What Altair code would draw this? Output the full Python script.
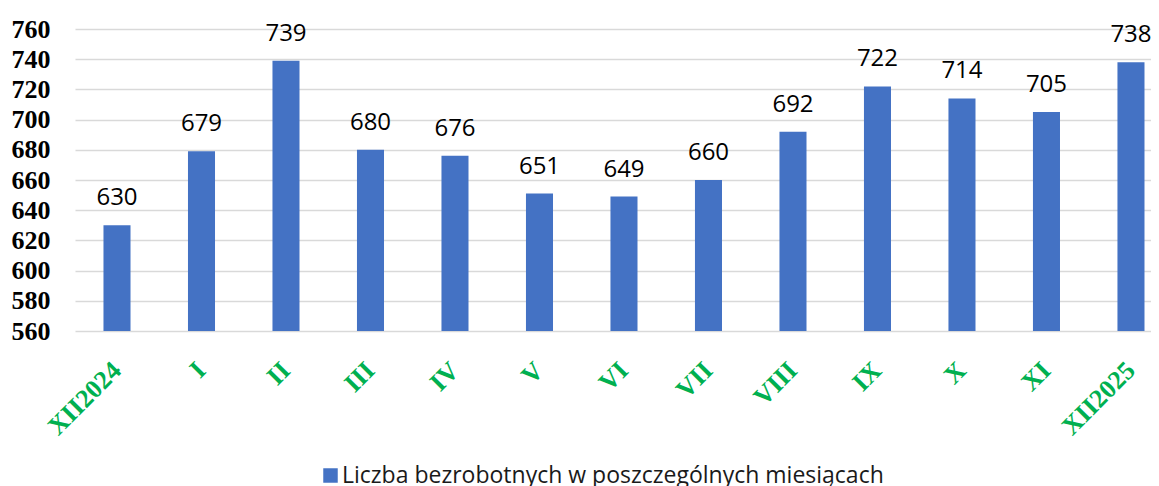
import altair as alt
import pandas as pd

miesiace = ["XII2024", "I", "II", "III", "IV", "V", "VI", "VII", "VIII", "IX", "X", "XI", "XII2025"]
wartosci = [630, 679, 739, 680, 676, 651, 649, 660, 692, 722, 714, 705, 738]
seria = "Liczba bezrobotnych w poszczególnych miesiącach"
y_ticks = [560, 580, 600, 620, 640, 660, 680, 700, 720, 740, 760]

df = pd.DataFrame({
    "miesiac": miesiace,
    "wartosc": wartosci,
    "seria": [seria] * len(miesiace),
})

x_scale = alt.Scale(paddingInner=0.68, paddingOuter=0.207, align=0.814)
y_scale = alt.Scale(domain=[560, 760], nice=False, zero=False)

x_enc = alt.X(
    "miesiac:N",
    sort=miesiace,
    title=None,
    scale=x_scale,
    axis=alt.Axis(
        labelAngle=315,
        labelAlign="right",
        labelBaseline="middle",
        labelFont="Liberation Serif",
        labelFontWeight="bold",
        labelFontSize=26,
        labelColor="#00B050",
        labelPadding=35,
        labelOverlap=False,
        ticks=False,
        domain=False,
        grid=False,
    ),
)

y_enc = alt.Y(
    "wartosc:Q",
    title=None,
    scale=y_scale,
    axis=alt.Axis(
        values=y_ticks,
        labelFont="Liberation Serif",
        labelFontWeight="bold",
        labelFontSize=26,
        labelColor="#000000",
        labelPadding=25,
        labelOverlap=False,
        labelBound=False,
        labelFlush=False,
        ticks=False,
        domain=False,
        grid=True,
        gridColor="#D9D9D9",
        gridWidth=1.5,
    ),
)

bars = alt.Chart(df).mark_bar().encode(
    x=x_enc,
    y=y_enc,
    y2=alt.datum(560),
    color=alt.Color(
        "seria:N",
        scale=alt.Scale(range=["#4472C4"]),
        legend=alt.Legend(
            title=None,
            orient="none",
            legendX=244,
            legendY=435,
            symbolType="square",
            symbolSize=210,
            symbolStrokeWidth=0,
            symbolOffset=0,
            labelFont="Open Sans",
            labelFontSize=23,
            labelColor="#1a1a1a",
            labelOffset=0,
            labelLimit=0,
            padding=0,
        ),
    ),
)

labels = alt.Chart(df).mark_text(
    font="Open Sans",
    fontSize=24,
    color="#000000",
    baseline="alphabetic",
    dy=-20,
).encode(
    x=x_enc,
    y=y_enc,
    text=alt.Text("wartosc:Q"),
)

chart = (bars + labels).properties(
    width=1076,
    height=302,
    autosize=alt.AutoSizeParams(type="none"),
    padding={"left": 67, "top": 21, "right": 0, "bottom": 155},
).configure_view(stroke=None)

chart.save("out.html", embed_options={"renderer": "svg", "actions": False})
